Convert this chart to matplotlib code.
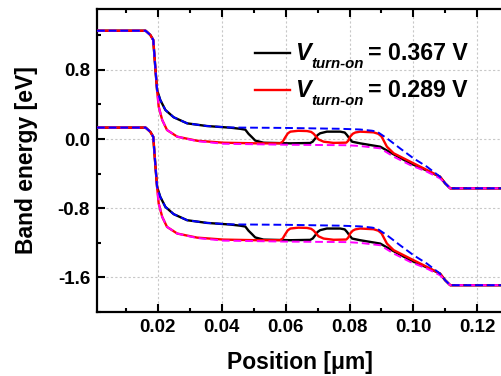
import matplotlib
matplotlib.use("Agg")
import matplotlib.pyplot as plt
from matplotlib.lines import Line2D
from matplotlib.ticker import MultipleLocator, FormatStrFormatter

plt.rcParams['font.family'] = ['Liberation Sans', 'DejaVu Sans']
plt.rcParams['font.weight'] = 'bold'

# ---- data ----
# black: V_turn-on = 0.367 V
bx = [0.001, 0.0162, 0.0177, 0.0186, 0.0193, 0.0198, 0.0208, 0.0224, 0.0250, 0.0292,
      0.0354, 0.0427, 0.0458, 0.0474, 0.0484, 0.0495, 0.0505, 0.0531, 0.0615, 0.0677,
      0.0685, 0.0693, 0.0700, 0.0708, 0.0729, 0.0771, 0.0785, 0.0792, 0.0800, 0.0808,
      0.0833, 0.0896, 0.0938, 0.0990, 0.1042, 0.1083, 0.1099, 0.1115, 0.1277]
bEc = [1.252, 1.252, 1.202, 1.145, 0.798, 0.566, 0.451, 0.335, 0.251, 0.181,
       0.150, 0.131, 0.118, 0.108, 0.060, 0.020, -0.018, -0.043, -0.050, -0.046,
       -0.030, 0.008, 0.045, 0.066, 0.085, 0.085, 0.075, 0.046, 0.005, -0.031,
       -0.050, -0.089, -0.177, -0.281, -0.365, -0.436, -0.512, -0.570, -0.570]
bEv = [0.132, 0.132, 0.082, 0.025, -0.322, -0.554, -0.669, -0.785, -0.869, -0.939,
       -0.970, -0.989, -1.002, -1.012, -1.060, -1.100, -1.138, -1.163, -1.170, -1.166,
       -1.150, -1.112, -1.075, -1.054, -1.035, -1.035, -1.045, -1.074, -1.115, -1.151,
       -1.170, -1.209, -1.297, -1.401, -1.485, -1.556, -1.632, -1.690, -1.690]

# red: V_turn-on = 0.289 V
rx = [0.001, 0.0162, 0.0177, 0.0186, 0.0193, 0.0198, 0.0203, 0.0214, 0.0229, 0.0261,
      0.0323, 0.0406, 0.0510, 0.0583, 0.0591, 0.0599, 0.0607, 0.0615, 0.0640, 0.0667,
      0.0680, 0.0688, 0.0696, 0.0703, 0.0719, 0.0750, 0.0790, 0.0796, 0.0802, 0.0810,
      0.0818, 0.0833, 0.0875, 0.0890, 0.0900, 0.0917, 0.0938, 0.0990, 0.1042, 0.1083,
      0.1099, 0.1115, 0.1277]
rEc = [1.252, 1.252, 1.202, 1.145, 0.798, 0.566, 0.374, 0.220, 0.104, 0.027,
       -0.020, -0.043, -0.050, -0.050, -0.030, 0.020, 0.065, 0.085, 0.095, 0.092,
       0.082, 0.060, 0.025, -0.005, -0.031, -0.045, -0.042, -0.020, 0.027, 0.060,
       0.075, 0.085, 0.077, 0.060, 0.030, -0.089, -0.165, -0.262, -0.358, -0.436,
       -0.512, -0.570, -0.570]
rEv = [0.132, 0.132, 0.082, 0.025, -0.322, -0.554, -0.746, -0.900, -1.016, -1.093,
       -1.140, -1.163, -1.170, -1.170, -1.150, -1.100, -1.055, -1.035, -1.025, -1.028,
       -1.038, -1.060, -1.095, -1.125, -1.151, -1.165, -1.162, -1.140, -1.093, -1.060,
       -1.045, -1.035, -1.043, -1.060, -1.090, -1.209, -1.285, -1.382, -1.478, -1.556,
       -1.632, -1.690, -1.690]

# blue dashed
ux = [0.001, 0.0162, 0.0177, 0.0186, 0.0193, 0.0198, 0.0208, 0.0224, 0.0250, 0.0292,
      0.0354, 0.0427, 0.0600, 0.0771, 0.0833, 0.0870, 0.0886, 0.0917, 0.0958, 0.1000,
      0.1042, 0.1083, 0.1099, 0.1115, 0.1277]
uEc = [1.252, 1.252, 1.202, 1.145, 0.798, 0.566, 0.451, 0.335, 0.251, 0.181,
       0.150, 0.133, 0.128, 0.118, 0.110, 0.096, 0.085, 0.008, -0.108, -0.223,
       -0.320, -0.436, -0.512, -0.570, -0.570]
uEv = [0.132, 0.132, 0.082, 0.025, -0.322, -0.554, -0.669, -0.785, -0.869, -0.939,
       -0.970, -0.987, -0.992, -1.002, -1.010, -1.024, -1.035, -1.112, -1.228, -1.343,
       -1.440, -1.556, -1.632, -1.690, -1.690]

# magenta dashed
mx = [0.001, 0.0162, 0.0177, 0.0186, 0.0193, 0.0198, 0.0203, 0.0214, 0.0229, 0.0261,
      0.0323, 0.0406, 0.0600, 0.0792, 0.0833, 0.0896, 0.0938, 0.0990, 0.1042, 0.1083,
      0.1099, 0.1115, 0.1277]
mEc = [1.252, 1.252, 1.202, 1.145, 0.798, 0.566, 0.374, 0.220, 0.104, 0.027,
       -0.025, -0.055, -0.066, -0.072, -0.081, -0.108, -0.204, -0.301, -0.378, -0.455,
       -0.512, -0.570, -0.570]
mEv = [0.132, 0.132, 0.082, 0.025, -0.322, -0.554, -0.746, -0.900, -1.016, -1.093,
       -1.145, -1.175, -1.186, -1.192, -1.201, -1.228, -1.324, -1.421, -1.498, -1.575,
       -1.632, -1.690, -1.690]

legend_main = ['V', 'V']
legend_sub = ['turn-on', 'turn-on']
legend_value = ['= 0.367 V', '= 0.289 V']
legend_colors = ['black', '#ff0000']
xticks = [0.02, 0.04, 0.06, 0.08, 0.10, 0.12]
yticks = [-1.6, -0.8, 0.0, 0.8]

W, H = 502, 376
def fx(px):
    return px / W
def fy(py):
    return 1 - py / H

# ---- figure ----
fig = plt.figure(figsize=(W / 100, H / 100), dpi=100)
ax = fig.add_axes([fx(97), fy(312), 1 - fx(97), (312 - 9) / H])

lw = 1.7
for y in (bEc, bEv):
    ax.plot(bx, y, color='black', lw=lw, zorder=3)
for y in (rEc, rEv):
    ax.plot(rx, y, color='#ff0000', lw=lw, zorder=4)
for y in (mEc, mEv):
    ax.plot(mx, y, color='#ff00ff', lw=1.4, dashes=(4, 2), zorder=5)
for y in (uEc, uEv):
    ax.plot(ux, y, color='#0000ff', lw=1.4, dashes=(4, 2), zorder=6)

ax.set_xlim(0.001, 0.1277)
ax.set_ylim(-2.0, 1.503)
ax.set_xticks(xticks)
ax.set_yticks(yticks)
ax.xaxis.set_minor_locator(MultipleLocator(0.01))
ax.yaxis.set_minor_locator(MultipleLocator(0.4))
ax.xaxis.set_major_formatter(FormatStrFormatter('%.2f'))
ax.yaxis.set_major_formatter(FormatStrFormatter('%.1f'))
ax.tick_params(which='both', direction='in', top=True, right=False, width=1.5)
ax.tick_params(which='major', length=6, labelsize=13.5, pad=5)
ax.tick_params(which='minor', length=3)
for s in ('left', 'bottom', 'top'):
    ax.spines[s].set_linewidth(1.6)
ax.spines['right'].set_visible(False)
ax.grid(True, which='major', color='#c8c8c8', ls=(0, (2, 2)), lw=0.8)
ax.set_axisbelow(True)

ax.set_xlabel('Position [μm]', fontsize=16.5, fontweight='bold', labelpad=11)
ax.set_ylabel('Band energy [eV]', fontsize=16.5, fontweight='bold', labelpad=14)

# legend (manual layout)
row_base = [60, 97]
for i in range(2):
    b = row_base[i]
    fig.add_artist(Line2D([fx(255), fx(290)], [fy(b - 7), fy(b - 7)],
                          color=legend_colors[i], lw=lw, transform=fig.transFigure))
    fig.text(fx(295), fy(b), legend_main[i], fontsize=17, fontweight='bold',
             fontstyle='italic', va='baseline', ha='left')
    fig.text(fx(311), fy(b + 8), legend_sub[i], fontsize=10.8, fontweight='bold',
             fontstyle='italic', va='baseline', ha='left')
    fig.text(fx(368), fy(b), legend_value[i], fontsize=16.7, fontweight='bold',
             va='baseline', ha='left')

fig.savefig('out.png', dpi=100)
